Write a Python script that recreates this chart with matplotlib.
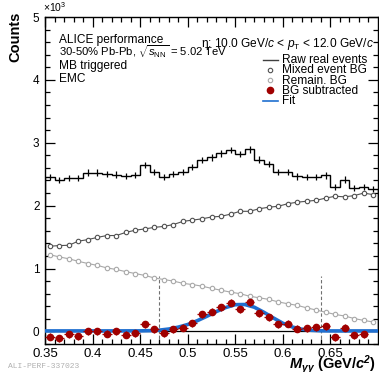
import numpy as np
import matplotlib
matplotlib.use('Agg')
import matplotlib.pyplot as plt

plt.rcParams['font.family'] = ['Liberation Sans', 'DejaVu Sans']
plt.rcParams['mathtext.fontset'] = 'custom'
plt.rcParams['mathtext.rm'] = 'Liberation Sans'
plt.rcParams['mathtext.it'] = 'Liberation Sans:italic'
plt.rcParams['mathtext.bf'] = 'Liberation Sans:italic:bold'

# ================= data =================
bin_edges = np.round(np.arange(0.35, 0.7001, 0.01), 3)
bin_centers = bin_edges[:-1] + 0.005

raw_counts = [2450, 2410, 2445, 2445, 2525, 2525, 2500, 2495, 2470, 2490,
              2645, 2540, 2455, 2505, 2540, 2615, 2725, 2770, 2830, 2885,
              2820, 2895, 2730, 2660, 2535, 2535, 2465, 2455, 2450, 2480,
              2300, 2415, 2285, 2295, 2265]

mixed_bg = [1355, 1365, 1370, 1435, 1460, 1495, 1525, 1525, 1575, 1610,
            1630, 1655, 1670, 1700, 1750, 1770, 1790, 1820, 1830, 1865,
            1910, 1910, 1950, 1975, 1990, 2030, 2055, 2070, 2085, 2120,
            2150, 2140, 2160, 2200, 2175]

remain_bg = [1220, 1185, 1155, 1115, 1080, 1050, 1010, 985, 950, 920,
             890, 850, 825, 800, 765, 745, 720, 685, 655, 625,
             600, 560, 535, 510, 470, 440, 415, 375, 340, 305,
             270, 245, 205, 175, 150]

bg_sub = [-87, -110, -48, -80, 0, 0, -35, 0, -50, -32,
          111, 32, -32, 32, 58, 132, 270, 310, 385, 455,
          355, 460, 290, 225, 111, 125, 40, 52, 69, 84,
          -90, 58, -58, -42]
bg_sub_err = 55

fit_x = [0.35, 0.40, 0.45, 0.46, 0.47, 0.48, 0.49, 0.50, 0.51, 0.52,
         0.53, 0.54, 0.55, 0.56, 0.57, 0.58, 0.59, 0.60, 0.61, 0.62,
         0.63, 0.64, 0.65, 0.70]
fit_y = [8, 8, 9, 12, 20, 38, 68, 110, 170, 240,
         315, 380, 425, 428, 385, 305, 215, 130, 70, 35,
         18, 10, 8, 8]

window = [0.47, 0.64]
window_top = 880

# ================= figure =================
W, H = 379, 372
fig = plt.figure(figsize=(W / 100, H / 100), dpi=100)


def fx(px):
    return px / W


def fy(py):
    return 1 - py / H


ax = fig.add_axes([fx(45), fy(344), 333 / W, 327 / H])

ax.axhline(0, color='black', lw=0.9, zorder=1)
for xw in window:
    ax.plot([xw, xw], [-200, window_top], ls=(0, (3, 2)), color='#707070', lw=0.8, zorder=1)

ax.stairs(raw_counts, bin_edges, color='black', lw=1.0, zorder=3)
ax.errorbar(bin_centers, raw_counts, yerr=np.sqrt(raw_counts), fmt='none',
            ecolor='black', elinewidth=0.9, zorder=3)

ax.plot(bin_centers, mixed_bg, color='#505050', lw=0.8, marker='o', ms=3.2,
        mfc='white', mec='#505050', mew=0.8, zorder=4)
ax.plot(bin_centers, remain_bg, color='#a8a8a8', lw=0.8, marker='o', ms=3.2,
        mfc='white', mec='#a8a8a8', mew=0.8, zorder=4)

ax.plot(fit_x, fit_y, color='#1f6fd0', lw=2.6, zorder=5)
ax.errorbar(bin_centers[:len(bg_sub)], bg_sub, xerr=0.005, yerr=bg_sub_err, fmt='o',
            color='#a00000', ms=4.5, elinewidth=0.9, zorder=6)

ax.set_xlim(0.35, 0.70)
ax.set_ylim(-200, 5000)
ax.set_xticks([0.35, 0.40, 0.45, 0.50, 0.55, 0.60, 0.65])
ax.set_xticklabels(['0.35', '0.4', '0.45', '0.5', '0.55', '0.6', '0.65'])
ax.set_xticks(np.arange(0.35, 0.70, 0.01), minor=True)
ax.set_yticks([0, 1000, 2000, 3000, 4000, 5000])
ax.set_yticklabels(['0', '1', '2', '3', '4', '5'])
ax.set_yticks(np.arange(-200, 5001, 200), minor=True)
ax.tick_params(which='both', direction='in', top=True, right=True, width=0.9)
ax.tick_params(which='major', length=7.2)
ax.tick_params(which='minor', length=3.6)
ax.tick_params(axis='y', labelsize=8.5, pad=4)
ax.tick_params(axis='x', labelsize=9.5, pad=3)
for s in ax.spines.values():
    s.set_linewidth(1.0)

# ================= texts =================
fig.text(fx(43), fy(7), r'$\times$10$^{3}$', fontsize=7.5, ha='left', va='center')
fig.text(fx(15), fy(12), 'Counts', rotation=90, fontsize=10.5, fontweight='bold',
         ha='center', va='top')
fig.text(fx(376), fy(369), r'$\mathbf{M_{\gamma\gamma}}$ (GeV/$\mathbf{c^{2}}$)', fontsize=10.5,
         fontweight='bold', ha='right', va='baseline')
fig.text(fx(8), fy(366), 'ALI-PERF-337023', fontsize=5.8, family='Liberation Mono',
         color='#b0b0b0', ha='left', va='center')

info = ['ALICE performance', r'30-50% Pb-Pb, $\sqrt{s_{\rm NN}}$ = 5.02 TeV',
        'MB triggered', 'EMC']
info_size = [8.6, 8.1, 8.6, 8.6]
for i, t in enumerate(info):
    fig.text(fx(59), fy(43.5 + 12.7 * i), t, fontsize=info_size[i], ha='left', va='baseline')
fig.text(fx(374), fy(47.5), r'η: 10.0 GeV/$c$ < $p_{\rm T}$ < 12.0 GeV/$c$', fontsize=8.6,
         ha='right', va='baseline')

# legend
leg_labels = ['Raw real events', 'Mixed event BG', 'Remain. BG', 'BG subtracted', 'Fit']
leg_base = [63, 73, 83.5, 93.5, 104]
for lab, yb in zip(leg_labels, leg_base):
    fig.text(fx(282), fy(yb), lab, fontsize=8.6, ha='left', va='baseline')
yc = [b - 3.5 for b in leg_base]
fig.add_artist(plt.Line2D([fx(263), fx(278)], [fy(yc[0])] * 2, color='#404040', lw=1.0))
fig.add_artist(plt.Line2D([fx(270)], [fy(yc[1])], marker='o', ms=3.2, mfc='white',
                          mec='#505050', mew=0.8, ls='none'))
fig.add_artist(plt.Line2D([fx(270)], [fy(yc[2])], marker='o', ms=3.2, mfc='white',
                          mec='#a8a8a8', mew=0.8, ls='none'))
fig.add_artist(plt.Line2D([fx(270)], [fy(yc[3])], marker='o', ms=4.5, color='#a00000',
                          ls='none'))
fig.add_artist(plt.Line2D([fx(263), fx(278)], [fy(yc[4])] * 2, color='#1f6fd0', lw=1.2))

fig.savefig('out.png', dpi=100)
